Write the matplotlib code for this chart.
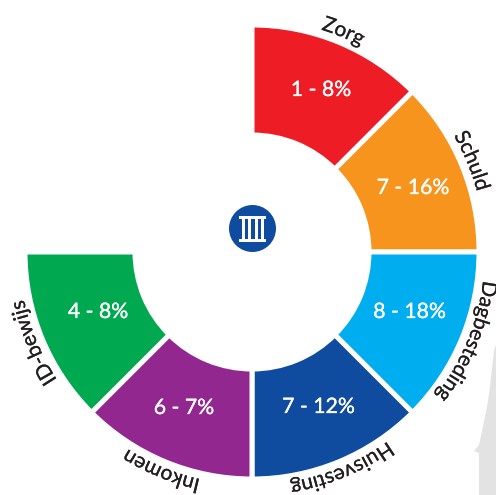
import math
import matplotlib
matplotlib.use("Agg")
import matplotlib.pyplot as plt
import matplotlib.patheffects as pe
from matplotlib.font_manager import FontProperties
from matplotlib.patches import Circle, Polygon, Rectangle
from matplotlib.textpath import text_to_path

names = ["Zorg", "Schuld", "Dagbesteding", "Huisvesting", "Inkomen", "ID-bewijs"]
counts = [1, 7, 8, 7, 6, 4]
percents = [8, 16, 18, 12, 7, 8]
colors = ["#ee1c25", "#f7941d", "#00aeef", "#0f4c9f", "#92278f", "#00a94f"]
sizes = [1, 1, 1, 1, 1, 1, 2]  # six equal slices, last one is the empty quarter

W, H = 496, 495
cx, cy = 252, H - 252
name_font = FontProperties(family="Lato", size=15)
# label centres, pixels from the top left of the picture
label_x = [321, 413, 409.5, 318.5, 184, 98]
label_y = [90, 188, 312, 407, 408, 312]


def curved(ax, txt, compass, radius, prop):
    # put letters one by one on the arc, reading clockwise
    def width(s):
        return text_to_path.get_text_width_height_descent(s, prop, False)[0] * 100 / 72

    total = width(txt)
    for i, ch in enumerate(txt):
        start = width(txt[:i + 1]) - width(ch)
        ang = compass + math.degrees((start - total / 2) / radius)
        mid = ang + math.degrees(width(ch) / 2 / radius)
        x = cx + radius * math.sin(math.radians(ang))
        y = cy + radius * math.cos(math.radians(ang))
        ax.text(x, y, ch, fontproperties=prop, color="#231f20", ha="left", va="baseline",
                rotation=-mid, rotation_mode="anchor",
                path_effects=[pe.withStroke(linewidth=0.15, foreground="#231f20")])


fig = plt.figure(figsize=(W / 100, H / 100), dpi=100)
ax = fig.add_axes([0, 0, 1, 1])

# faint building behind the chart
ax.add_patch(Polygon([(479, 0), (479, 42), (474, 44), (479, 50), (487, 88), (490, 108),
                      (494, 145), (496, 150), (496, 0)], fc="#e3e3e4", ec="none"))

wedges, _ = ax.pie(sizes, colors=colors + ["white"], startangle=90, counterclock=False,
                   radius=227, center=(cx, cy),
                   wedgeprops=dict(width=110, edgecolor="white", linewidth=3.6))
wedges[-1].set_visible(False)

for i, name in enumerate(names):
    ax.text(label_x[i], H - label_y[i], f"{counts[i]} - {percents[i]}%",
            color="white", family="Lato", fontsize=15.3, ha="center", va="center",
            path_effects=[pe.withStroke(linewidth=0.2, foreground="white")])
    curved(ax, name, 22.5 + 45 * i, 233, name_font)

# radiator icon
blue = colors[3]
ax.add_patch(Circle((252.5, H - 228.5), 23.5, fc=blue, ec="none"))
ax.add_patch(Rectangle((239, H - 219), 27, 2.6, fc="white", ec="none"))
ax.add_patch(Rectangle((239, H - 242), 27, 2.6, fc="white", ec="none"))
for bx in [241.5, 248, 254.5, 261]:
    ax.add_patch(Rectangle((bx, H - 240), 3, 21, fc="white", ec="none"))

ax.set_xlim(0, W)
ax.set_ylim(0, H)
ax.set_aspect("auto")
ax.axis("off")
fig.savefig("out.png", dpi=100)
